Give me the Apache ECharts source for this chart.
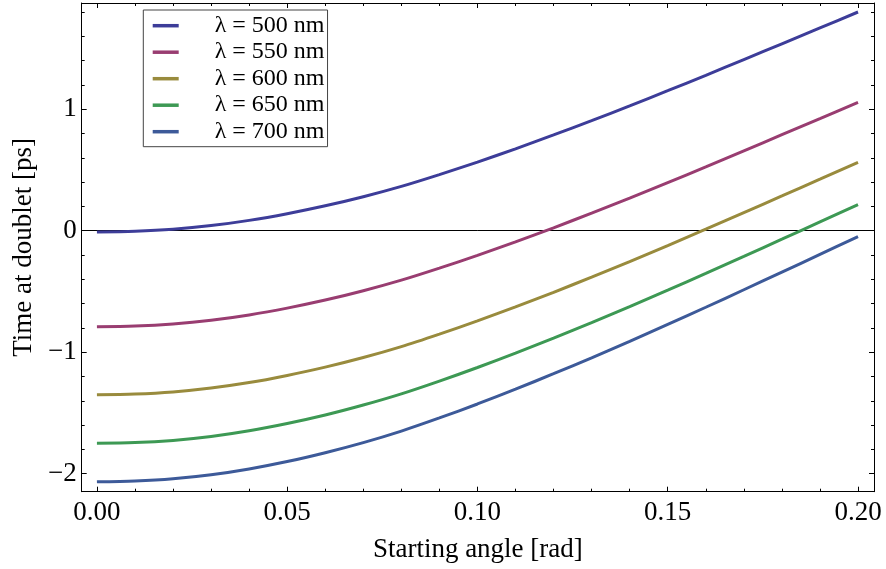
<!DOCTYPE html>
<html>
<head>
<meta charset="utf-8">
<script src="https://cdn.jsdelivr.net/npm/echarts@6/dist/echarts.min.js"></script>
<style>html,body{margin:0;padding:0;background:#fff;}#chart{width:886px;height:569px;}</style>
</head>
<body>
<div id="chart"></div>
<script>
const angles = [0.00,0.01,0.02,0.03,0.04,0.05,0.06,0.07,0.08,0.09,0.10,0.11,0.12,0.13,0.14,0.15,0.16,0.17,0.18,0.19,0.20];
const t500 = [-0.010,-0.004,0.012,0.042,0.085,0.140,0.205,0.280,0.365,0.462,0.565,0.674,0.788,0.906,1.027,1.152,1.279,1.408,1.538,1.669,1.800];
const t550 = [-0.790,-0.784,-0.767,-0.737,-0.693,-0.637,-0.571,-0.494,-0.407,-0.308,-0.203,-0.092,0.024,0.145,0.268,0.396,0.525,0.657,0.790,0.923,1.057];
const t600 = [-1.350,-1.344,-1.327,-1.295,-1.250,-1.191,-1.123,-1.044,-0.954,-0.851,-0.742,-0.627,-0.507,-0.382,-0.254,-0.122,0.012,0.149,0.286,0.424,0.563];
const t650 = [-1.750,-1.744,-1.726,-1.694,-1.647,-1.587,-1.517,-1.435,-1.343,-1.238,-1.126,-1.008,-0.884,-0.756,-0.625,-0.489,-0.351,-0.211,-0.070,0.072,0.214];
const t700 = [-2.067,-2.060,-2.042,-2.009,-1.961,-1.900,-1.827,-1.744,-1.649,-1.541,-1.426,-1.304,-1.177,-1.046,-0.911,-0.771,-0.630,-0.486,-0.341,-0.195,-0.049];
const seriesNames = ['λ = 500 nm','λ = 550 nm','λ = 600 nm','λ = 650 nm','λ = 700 nm'];
const seriesColors = ['#3d3d99','#993d71','#998b3d','#3d9954','#3d5a99'];
const xMajorTicks = [0.00,0.05,0.10,0.15,0.20];
const xMinorTicks = [0.01,0.02,0.03,0.04,0.06,0.07,0.08,0.09,0.11,0.12,0.13,0.14,0.16,0.17,0.18,0.19];
const yMajorTicks = [-2,-1,0,1];
const yMinorTicks = [-1.8,-1.6,-1.4,-1.2,-0.8,-0.6,-0.4,-0.2,0.2,0.4,0.6,0.8,1.2,1.4,1.6,1.8];
const xRange = [-0.004, 0.2042];
const yRange = [-2.148, 1.874];

const FONT = 'Liberation Serif';
const AXFS = 27;
const allSeries = [t500,t550,t600,t650,t700];

function xAx(pos, ticks, len, labels, line) {
  return {
    type:'value', position:pos, min:xRange[0], max:xRange[1],
    axisLine:{show:line, onZero:false, lineStyle:{color:'#000', width:1}},
    axisTick:{show:true, inside:true, length:len, customValues:ticks, lineStyle:{color:'#000', width:1}},
    axisLabel:{show:labels, customValues:ticks, margin:8, color:'#000', fontFamily:FONT, fontSize:AXFS,
      formatter:v=>v.toFixed(2)},
    splitLine:{show:false},
    name: labels ? 'Starting angle [rad]' : '',
    nameLocation:'middle', nameGap:45,
    nameTextStyle:{color:'#000', fontFamily:FONT, fontSize:AXFS}
  };
}
function yAx(pos, ticks, len, labels, line) {
  return {
    type:'value', position:pos, min:yRange[0], max:yRange[1],
    axisLine:{show:line, onZero:false, lineStyle:{color:'#000', width:1}},
    axisTick:{show:true, inside:true, length:len, customValues:ticks, lineStyle:{color:'#000', width:1}},
    axisLabel:{show:labels, customValues:ticks, margin:5, color:'#000', fontFamily:FONT, fontSize:AXFS,
      formatter:v=> v<0 ? '\u2212'+Math.abs(v) : String(v)},
    splitLine:{show:false},
    name: labels ? 'Time at doublet [ps]' : '',
    nameLocation:'middle', nameGap:43.5, nameRotate:90,
    nameTextStyle:{color:'#000', fontFamily:FONT, fontSize:AXFS}
  };
}

const chart = echarts.init(document.getElementById('chart'), null, {renderer:'canvas'});
chart.setOption({
  animation:false,
  backgroundColor:'#fff',
  grid:{left:81.7, right:12, top:3, bottom:77.3, containLabel:false},
  xAxis:[
    xAx('bottom', xMajorTicks, 5, true, true),
    xAx('bottom', xMinorTicks, 3, false, false),
    xAx('top', xMajorTicks, 5, false, true),
    xAx('top', xMinorTicks, 3, false, false)
  ],
  yAxis:[
    yAx('left', yMajorTicks, 5, true, true),
    yAx('left', yMinorTicks, 3, false, false),
    yAx('right', yMajorTicks, 5, false, true),
    yAx('right', yMinorTicks, 3, false, false)
  ],
  legend:{
    orient:'vertical', left:143.3, top:10,
    padding:[3.7,3,3,9.4], itemGap:2.5,
    itemWidth:26, itemHeight:3.5, icon:'rect',
    borderColor:'#444', borderWidth:1, backgroundColor:'#fff',
    textStyle:{color:'#000', fontFamily:FONT, fontSize:24, lineHeight:24, padding:[0,0,0,31]},
    data:seriesNames
  },
  series: allSeries.map((vals,i)=>({
    name:seriesNames[i], type:'line', xAxisIndex:0, yAxisIndex:0,
    data: angles.map((a,j)=>[a, vals[j]]),
    showSymbol:false, smooth:0.3, z:3,
    lineStyle:{color:seriesColors[i], width:3},
    itemStyle:{color:seriesColors[i]},
    markLine: i===0 ? {silent:true, symbol:['none','none'], label:{show:false},
      lineStyle:{color:'#000', width:1, type:'solid'}, data:[{yAxis:0}], z:2} : undefined
  }))
});
</script>
</body>
</html>
